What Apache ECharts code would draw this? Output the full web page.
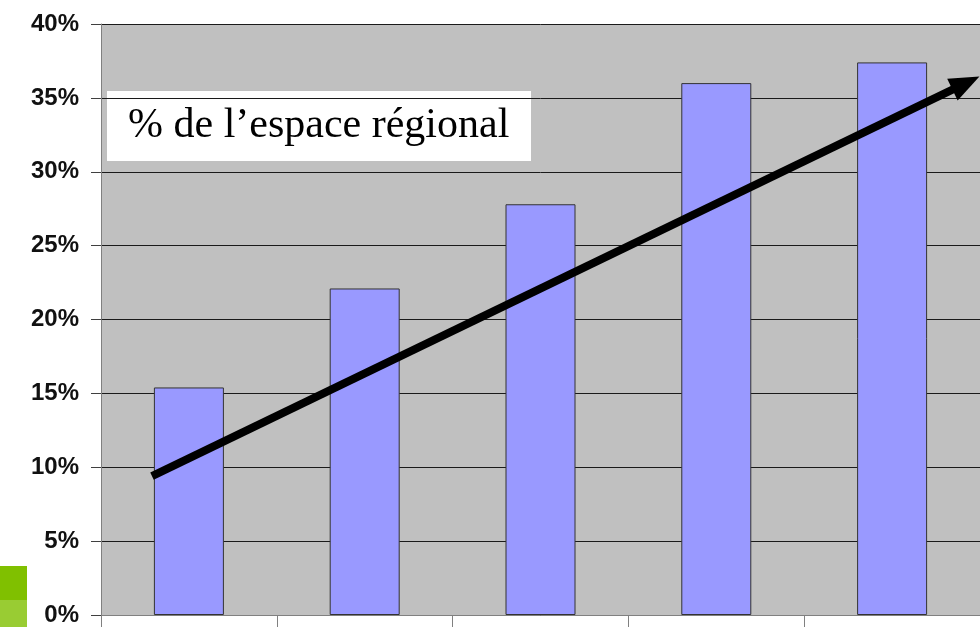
<!DOCTYPE html>
<html>
<head>
<meta charset="utf-8">
<script src="https://cdn.jsdelivr.net/npm/echarts@6/dist/echarts.min.js"></script>
<style>html,body{margin:0;padding:0;background:#fff;}#c{width:980px;height:627px;}</style>
</head>
<body>
<div id="c"></div>
<script>
const categories = ['1', '2', '3', '4', '5'];
const shareValues = [15.4, 22.1, 27.8, 36.0, 37.4];
const yTicks = { min: 0, max: 40, interval: 5 };
const trendArrow = [[0.29, 9.4], [4.92, 36.0]];
const boxTitle = '% de l’espace régional';

const chart = echarts.init(document.getElementById('c'));
chart.setOption({
  animation: false,
  backgroundColor: '#ffffff',
  grid: { left: 101, right: -1, top: 24, bottom: 12, show: true, backgroundColor: '#c0c0c0', borderWidth: 0 },
  xAxis: [
    {
      type: 'category', data: categories, boundaryGap: true,
      axisLine: { show: true, lineStyle: { color: '#808080', width: 1 } },
      axisTick: { show: true, length: 12, lineStyle: { color: '#808080' } },
      axisLabel: { show: false }, splitLine: { show: false }
    },
    {
      type: 'value', min: 0, max: 5, show: false, position: 'bottom'
    }
  ],
  yAxis: [{
    type: 'value', min: yTicks.min, max: yTicks.max, interval: yTicks.interval,
    axisLine: { show: true, lineStyle: { color: '#808080', width: 1 } },
    axisTick: { show: true, length: 10, lineStyle: { color: '#404040' } },
    axisLabel: { formatter: v => v + '%', fontFamily: 'Liberation Sans, Arial, sans-serif', fontWeight: 'bold', fontSize: 24, color: '#111', margin: 22 },
    splitLine: { show: true, lineStyle: { color: '#1a1a1a', width: 1 } }
  }],
  series: [
    {
      type: 'bar', data: shareValues, xAxisIndex: 0, barWidth: 70,
      itemStyle: { color: '#9999ff', borderColor: '#333', borderWidth: 1 }
    },
    {
      type: 'line', xAxisIndex: 1, data: [], silent: true,
      markLine: {
        silent: true, animation: false,
        symbol: ['none', 'triangle'], symbolSize: [24, 30],
        label: { show: false },
        lineStyle: { color: '#000', width: 8, type: 'solid' },
        data: [[{ coord: trendArrow[0] }, { coord: trendArrow[1] }]]
      }
    }
  ],
  graphic: [
    { type: 'rect', left: 0, top: 566, shape: { width: 27, height: 34 }, style: { fill: '#80c000' } },
    { type: 'rect', left: 0, top: 600, shape: { width: 27, height: 27 }, style: { fill: '#99cc33' } },
    {
      type: 'group', left: 107, top: 91,
      children: [
        { type: 'rect', shape: { x: 0, y: 0, width: 424, height: 70 }, style: { fill: '#ffffff' } },
        { type: 'text', x: 21, y: 35, style: { text: boxTitle, font: '42px "Liberation Serif", "Times New Roman", serif', fill: '#000', verticalAlign: 'middle' } }
      ]
    }
  ]
});
</script>
</body>
</html>
